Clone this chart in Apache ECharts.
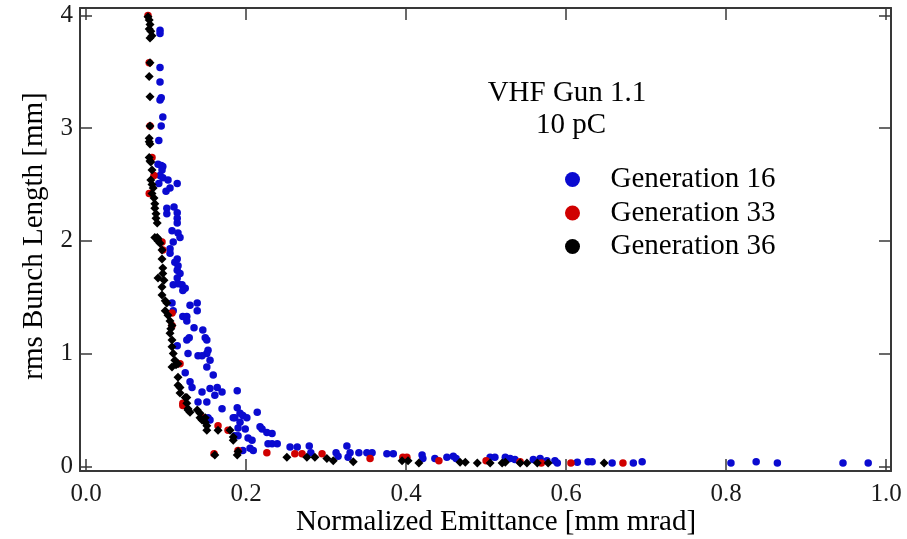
<!DOCTYPE html>
<html>
<head>
<meta charset="utf-8">
<script src="https://cdn.jsdelivr.net/npm/echarts@6/dist/echarts.min.js"></script>
<style>
html,body{margin:0;padding:0;background:#fff;}
#chart{width:907px;height:539px;}
</style>
</head>
<body>
<div id="chart"></div>
<script>
// ---- data (emittance [mm mrad], rms bunch length [mm]) ----
const seriesNames = ['Generation 16', 'Generation 33', 'Generation 36'];
const xTicks = [0, 0.2, 0.4, 0.6, 0.8, 1.0];
const yTicks = [0, 1, 2, 3, 4];
const annotationLines = ['VHF Gun 1.1', '10 pC'];
const xTitle = 'Normalized Emittance [mm mrad]';
const yTitle = 'rms Bunch Length [mm]';

const gen16 = [
 [0.0925,3.87],[0.0925,3.84],[0.0925,3.54],[0.0925,3.41],[0.0925,3.25],[0.094,3.27],
 [0.096,3.10],[0.094,3.02],[0.091,2.89],[0.090,2.68],[0.094,2.67],[0.096,2.66],
 [0.095,2.63],[0.0925,2.58],[0.096,2.56],[0.1025,2.54],[0.114,2.51],[0.091,2.51],
 [0.100,2.44],[0.105,2.47],[0.101,2.29],[0.110,2.30],[0.114,2.25],[0.114,2.20],
 [0.114,2.16],[0.101,2.24],[0.1075,2.09],[0.115,2.07],[0.1175,2.03],[0.109,1.99],
 [0.105,1.93],[0.105,1.89],[0.114,1.84],[0.111,1.81],[0.115,1.78],[0.114,1.74],
 [0.1175,1.71],[0.114,1.67],[0.115,1.62],[0.120,1.61],[0.124,1.58],[0.121,1.56],
 [0.109,1.61],[0.1075,1.45],[0.130,1.43],[0.139,1.45],[0.139,1.38],[0.109,1.38],
 [0.121,1.33],[0.126,1.33],[0.126,1.29],[0.135,1.23],[0.146,1.21],[0.149,1.14],
 [0.151,1.12],[0.129,1.14],[0.126,1.12],[0.114,1.07],[0.1525,1.03],[0.151,1.00],
 [0.1275,1.00],[0.140,0.98],[0.145,0.98],[0.155,0.94],[0.151,0.88],[0.124,0.83],
 [0.159,0.81],[0.130,0.75],[0.1325,0.70],[0.155,0.69],[0.164,0.70],[0.161,0.63],
 [0.170,0.66],[0.189,0.67],[0.145,0.66],[0.151,0.57],[0.140,0.57],[0.170,0.51],
 [0.189,0.52],[0.186,0.43],[0.1925,0.47],[0.196,0.45],[0.201,0.43],[0.184,0.43],
 [0.1925,0.39],[0.214,0.48],[0.1525,0.43],[0.155,0.41],[0.190,0.34],[0.199,0.33],
 [0.2175,0.35],[0.220,0.33],[0.226,0.30],[0.2325,0.29],[0.186,0.27],[0.190,0.27],
 [0.2025,0.25],[0.2075,0.23],[0.205,0.16],[0.209,0.14],[0.2275,0.20],[0.2325,0.20],
 [0.239,0.20],[0.196,0.14],[0.255,0.17],[0.264,0.17],[0.279,0.18],[0.281,0.12],
 [0.3125,0.12],[0.315,0.09],[0.326,0.18],[0.330,0.12],[0.3275,0.08],[0.341,0.12],
 [0.351,0.12],[0.3575,0.12],[0.376,0.11],[0.384,0.11],[0.420,0.10],[0.421,0.07],
 [0.436,0.07],[0.451,0.08],[0.459,0.09],[0.4625,0.07],[0.505,0.08],[0.511,0.08],
 [0.524,0.08],[0.530,0.07],[0.536,0.06],[0.559,0.06],[0.5675,0.07],[0.576,0.05],
 [0.586,0.05],[0.589,0.03],[0.614,0.035],[0.6275,0.04],[0.6325,0.04],[0.6575,0.03],
 [0.684,0.03],[0.695,0.04],[0.806,0.03],[0.8375,0.04],[0.864,0.03],[0.946,0.03],
 [0.9775,0.03]
];

const gen33 = [
 [0.0775,4.00],[0.079,3.58],[0.080,3.02],[0.0825,2.74],[0.085,2.58],[0.079,2.42],
 [0.095,1.99],[0.096,1.92],[0.1075,1.36],[0.1075,1.25],[0.1175,0.91],[0.121,0.56],
 [0.121,0.54],[0.146,0.43],[0.165,0.36],[0.1775,0.32],[0.160,0.11],[0.190,0.14],
 [0.226,0.12],[0.261,0.11],[0.270,0.11],[0.295,0.11],[0.355,0.07],[0.396,0.08],
 [0.401,0.08],[0.441,0.05],[0.500,0.05],[0.5425,0.04],[0.569,0.03],[0.606,0.03],
 [0.671,0.03]
];

const gen36 = [
 [0.0775,3.99],[0.079,3.96],[0.080,3.92],[0.079,3.88],[0.081,3.86],[0.0825,3.82],
 [0.080,3.80],[0.080,3.58],[0.079,3.46],[0.080,3.28],[0.080,3.02],[0.079,2.91],
 [0.079,2.88],[0.080,2.86],[0.079,2.74],[0.080,2.71],[0.081,2.70],[0.0825,2.63],
 [0.081,2.54],[0.0825,2.50],[0.084,2.47],[0.0825,2.42],[0.085,2.38],[0.086,2.33],
 [0.086,2.29],[0.0875,2.24],[0.0875,2.20],[0.089,2.16],[0.089,2.03],[0.090,2.02],
 [0.086,2.03],[0.090,2.00],[0.0925,1.98],[0.095,1.92],[0.095,1.84],[0.096,1.76],
 [0.090,1.67],[0.096,1.71],[0.0975,1.65],[0.095,1.59],[0.095,1.52],[0.099,1.47],
 [0.101,1.45],[0.099,1.38],[0.1025,1.34],[0.105,1.29],[0.1075,1.25],[0.106,1.22],
 [0.105,1.18],[0.1075,1.12],[0.1075,1.06],[0.109,1.00],[0.111,0.94],[0.1125,0.90],
 [0.115,0.91],[0.1075,0.88],[0.115,0.79],[0.115,0.72],[0.1175,0.70],[0.1175,0.65],
 [0.124,0.61],[0.126,0.61],[0.126,0.56],[0.1275,0.51],[0.1275,0.50],[0.130,0.48],
 [0.139,0.50],[0.1425,0.47],[0.1425,0.43],[0.149,0.43],[0.145,0.41],[0.149,0.39],
 [0.151,0.36],[0.151,0.32],[0.165,0.32],[0.180,0.32],[0.184,0.26],[0.184,0.23],
 [0.161,0.10],[0.189,0.10],[0.190,0.13],[0.251,0.08],[0.276,0.08],[0.286,0.08],
 [0.301,0.07],[0.309,0.05],[0.334,0.04],[0.395,0.05],[0.4025,0.05],[0.416,0.03],
 [0.4675,0.035],[0.474,0.035],[0.489,0.03],[0.505,0.03],[0.520,0.03],[0.524,0.035],
 [0.5425,0.03],[0.551,0.03],[0.564,0.03],[0.5775,0.03],[0.6475,0.03]
];

// ---- chart ----
const chart = echarts.init(document.getElementById('chart'), null, {renderer: 'canvas'});
const FONT = '"Liberation Serif", "Times New Roman", serif';
const AX = '#383838';
const xMin = -0.0075, xMax = 1.006, yMin = -0.042, yMax = 4.067;

function xAxisCfg(pos, showLabels) {
  return {
    type: 'value', position: pos, min: xMin, max: xMax,
    splitLine: {show: false},
    axisLine: {show: true, onZero: false, lineStyle: {color: AX, width: 2}},
    axisTick: {show: true, inside: true, length: 12, customValues: xTicks, lineStyle: {color: AX, width: 1.5}},
    axisLabel: {show: showLabels, customValues: xTicks, margin: 11,
      formatter: v => v.toFixed(1), fontFamily: FONT, fontSize: 25, color: '#1a1a1a'}
  };
}
function yAxisCfg(pos, showLabels) {
  return {
    type: 'value', position: pos, min: yMin, max: yMax,
    splitLine: {show: false},
    axisLine: {show: true, onZero: false, lineStyle: {color: AX, width: 2}},
    axisTick: {show: true, inside: true, length: 12, customValues: yTicks, lineStyle: {color: AX, width: 1.5}},
    axisLabel: {show: showLabels, customValues: yTicks, margin: 7,
      formatter: v => String(v), fontFamily: FONT, fontSize: 25, color: '#1a1a1a'}
  };
}

const colors = ['#0a0ad0', '#d00000', '#000000'];

chart.setOption({
  animation: false,
  backgroundColor: '#fff',
  grid: {left: 80, top: 8, width: 811, height: 463, containLabel: false},
  xAxis: [xAxisCfg('bottom', true), xAxisCfg('top', false)],
  yAxis: [yAxisCfg('left', true), yAxisCfg('right', false)],
  legend: {
    orient: 'vertical', left: 560, top: 160, itemWidth: 66, itemHeight: 15, itemGap: 4.5,
    textStyle: {fontFamily: FONT, fontSize: 29, color: '#000', lineHeight: 28},
    data: seriesNames.map(n => ({name: n, icon: 'circle'}))
  },
  graphic: [
    {type: 'text', x: 567, y: 93, style: {text: annotationLines[0], font: '29px ' + FONT, fill: '#000', textAlign: 'center', textVerticalAlign: 'middle'}},
    {type: 'text', x: 571, y: 125, style: {text: annotationLines[1], font: '29px ' + FONT, fill: '#000', textAlign: 'center', textVerticalAlign: 'middle'}},
    {type: 'text', x: 496, y: 522, style: {text: xTitle, font: '29px ' + FONT, fill: '#000', textAlign: 'center', textVerticalAlign: 'middle'}},
    {type: 'text', x: 34, y: 236, rotation: Math.PI / 2, style: {text: yTitle, font: '29px ' + FONT, fill: '#000', textAlign: 'center', textVerticalAlign: 'middle'}}
  ],
  series: [
    {name: seriesNames[0], type: 'scatter', data: gen16, symbol: 'circle', symbolSize: 7.5, itemStyle: {color: colors[0], opacity: 1}, z: 2},
    {name: seriesNames[1], type: 'scatter', data: gen33, symbol: 'circle', symbolSize: 7.5, itemStyle: {color: colors[1], opacity: 1}, z: 3},
    {name: seriesNames[2], type: 'scatter', data: gen36, symbol: 'diamond', symbolSize: 9, itemStyle: {color: colors[2], opacity: 1}, z: 4}
  ]
});
</script>
</body>
</html>
